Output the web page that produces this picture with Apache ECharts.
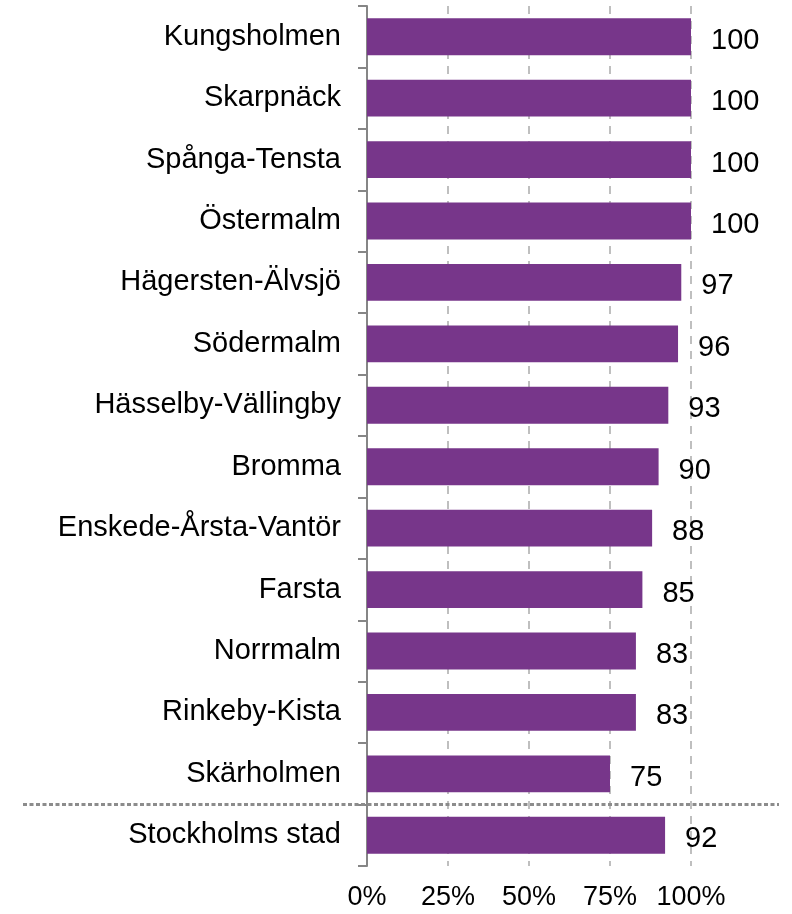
<!DOCTYPE html>
<html>
<head>
<meta charset="utf-8">
<script src="https://cdn.jsdelivr.net/npm/echarts@6/dist/echarts.min.js"></script>
<style>html,body{margin:0;padding:0;background:#fff;}#c{width:792px;height:914px;}</style>
</head>
<body>
<div id="c"></div>
<script>
const categories = ["Kungsholmen","Skarpnäck","Spånga-Tensta","Östermalm","Hägersten-Älvsjö","Södermalm","Hässelby-Vällingby","Bromma","Enskede-Årsta-Vantör","Farsta","Norrmalm","Rinkeby-Kista","Skärholmen","Stockholms stad"];
const values = [100,100,100,100,97,96,93,90,88,85,83,83,75,92];
const xTicks = [0,25,50,75,100];
const separatorAfter = "Skärholmen";

const FONT = '"Liberation Sans", Arial, sans-serif';
const chart = echarts.init(document.getElementById('c'), null, {renderer:'canvas'});
chart.setOption({
  animation:false,
  grid:{left:367,right:101,top:6,bottom:48,containLabel:false},
  xAxis:{type:'value',min:xTicks[0],max:xTicks[xTicks.length-1],interval:25,
    axisLine:{show:false},axisTick:{show:false},
    axisLabel:{formatter:'{value}%',color:'#000',fontFamily:FONT,fontSize:27,margin:18},
    splitLine:{show:true,lineStyle:{color:'#bfbfbf',width:2,type:[8,7]}}},
  yAxis:{type:'category',data:categories,inverse:true,
    axisLine:{show:true,lineStyle:{color:'#868686',width:2}},
    axisTick:{show:true,length:9,lineStyle:{color:'#868686',width:2}},
    axisLabel:{color:'#000',fontFamily:FONT,fontSize:29,margin:26,padding:[7,0,0,0]},
    splitLine:{show:false}},
  series:[{type:'bar',data:values,barWidth:'60%',
    itemStyle:{color:'#77368A'},
    label:{show:true,position:'right',distance:20,color:'#000',fontFamily:FONT,fontSize:29,offset:[0,4]}}]
});
const i = categories.indexOf(separatorAfter);
const y1 = chart.convertToPixel({yAxisIndex:0}, categories[i]);
const y2 = chart.convertToPixel({yAxisIndex:0}, categories[i+1]);
const ySep = (y1+y2)/2;
chart.setOption({graphic:[{type:'line',shape:{x1:23,y1:ySep,x2:779,y2:ySep},
  style:{stroke:'#8c8c8c',lineWidth:3,lineDash:[4,2.5]},z:10}]});
</script>
</body>
</html>
